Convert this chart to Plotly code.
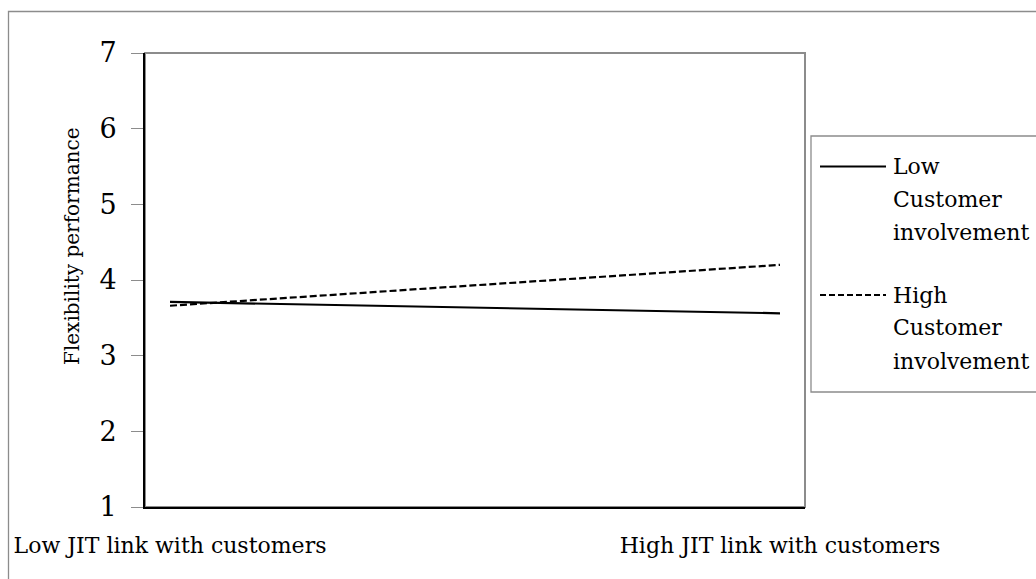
import plotly.graph_objects as go

# Interaction plot: flexibility performance vs JIT link with customers
jit_levels = ["Low JIT link with customers", "High JIT link with customers"]
jit_pos = [0, 1]
low_involvement = [3.71, 3.56]
high_involvement = [3.66, 4.20]
series_labels = [["Low", "Customer", "involvement"],
                 ["High", "Customer", "involvement"]]
series_dash = ["solid", "7px,3px"]
y_ticks = [1, 2, 3, 4, 5, 6, 7]

FONT = "DejaVu Serif"
GREY = "#8c8c8c"
W, H = 1036, 579
L, R, T, B = 145, 231, 53, 72
pw, ph = W - L - R, H - T - B


def px_x(x):
    return (x - L) / pw


def px_y(y):
    return (H - B - y) / ph


fig = go.Figure()
for vals, dash in zip([low_involvement, high_involvement], series_dash):
    fig.add_trace(go.Scatter(
        x=jit_pos, y=vals, mode="lines", showlegend=False,
        line=dict(color="black", width=2.2, dash=dash),
    ))

# frame around the whole chart and the grey plot-area edges
fig.add_shape(type="rect", xref="paper", yref="paper",
              x0=px_x(8.5), x1=px_x(1060), y0=px_y(11.5), y1=px_y(600),
              line=dict(color=GREY, width=1.3), layer="below")
fig.add_shape(type="rect", xref="paper", yref="paper",
              x0=0, x1=1, y0=0, y1=1,
              line=dict(color=GREY, width=2), layer="below")

# legend box with line samples and wrapped labels
fig.add_shape(type="rect", xref="paper", yref="paper",
              x0=px_x(811), x1=px_x(1060), y0=px_y(136), y1=px_y(392),
              line=dict(color=GREY, width=1.3), fillcolor="white", layer="below")
annotations = []
sample_y = [166.5, 295]
for k, (lines, dash) in enumerate(zip(series_labels, series_dash)):
    y0 = sample_y[k]
    fig.add_shape(type="line", xref="paper", yref="paper",
                  x0=px_x(820), x1=px_x(886), y0=px_y(y0), y1=px_y(y0),
                  line=dict(color="black", width=2.2,
                            dash="6px,3px" if dash != "solid" else "solid"))
    for j, txt in enumerate(lines):
        annotations.append(dict(
            text=txt, xref="paper", yref="paper", x=px_x(891),
            y=px_y(y0 + j * 33), xanchor="left", yanchor="middle",
            showarrow=False, font=dict(family=FONT, size=22, color="black"),
        ))

annotations.append(dict(
    text="Flexibility performance", xref="paper", yref="paper",
    x=px_x(72), y=px_y(247), textangle=-90, showarrow=False,
    font=dict(family=FONT, size=20, color="black"),
    xanchor="center", yanchor="middle",
))

fig.update_layout(
    width=W, height=H,
    margin=dict(l=L, r=R, t=T, b=B, autoexpand=False),
    paper_bgcolor="white", plot_bgcolor="white",
    font=dict(family=FONT, color="black"),
    showlegend=False,
    xaxis=dict(
        range=[-0.041, 1.041], tickvals=jit_pos, ticktext=jit_levels,
        showgrid=False, zeroline=False, showline=True,
        linecolor="black", linewidth=2, ticks="",
        tickfont=dict(family=FONT, size=22), ticklabelstandoff=18,
    ),
    yaxis=dict(
        range=[1, 7], tickvals=y_ticks, showgrid=False, zeroline=False,
        showline=True, linecolor="black", linewidth=2,
        ticks="outside", ticklen=12, tickcolor=GREY, tickwidth=1.3,
        tickfont=dict(family=FONT, size=27), ticklabelstandoff=9,
    ),
    annotations=annotations,
)

fig.write_html("out.html")
